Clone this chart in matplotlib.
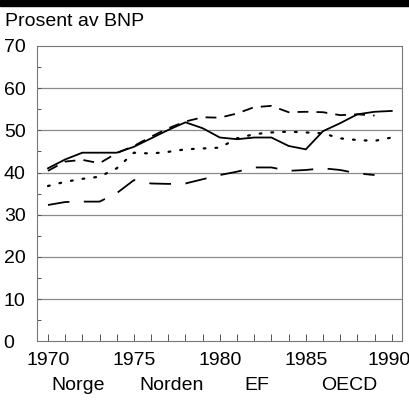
import matplotlib
matplotlib.use("Agg")
import matplotlib.pyplot as plt
from matplotlib.patches import Rectangle
import matplotlib.transforms as mtransforms

plt.rcParams['font.family'] = ['Liberation Sans Narrow', 'Liberation Sans', 'DejaVu Sans']

years = list(range(1970, 1991))
norge = [41.0, 43.1, 44.7, 44.7, 44.7, 46.1, 48.1, 50.1, 51.9, 50.5, 48.3,
         47.9, 48.3, 48.3, 46.3, 45.5, 49.8, 51.7, 53.8, 54.4, 54.6]
years_nd = list(range(1970, 1990))
norden = [40.4, 42.6, 43.0, 42.2, 44.6, 46.3, 48.5, 50.5, 52.1, 53.1, 53.0,
          54.0, 55.5, 55.8, 54.3, 54.4, 54.3, 53.6, 53.8, 53.5]
ef = [36.8, 37.8, 38.5, 39.0, 41.0, 44.7, 44.5, 44.9, 45.5, 45.7, 45.9,
      48.1, 49.1, 49.5, 49.7, 49.5, 49.3, 48.1, 47.7, 47.5, 48.3]
oecd = [32.3, 33.0, 33.1, 33.1, 35.1, 38.2, 37.4, 37.3, 37.4, 38.4, 39.4,
        40.2, 41.2, 41.2, 40.4, 40.6, 41.0, 40.6, 39.8, 39.4]

series_labels = ["Norge", "Norden", "EF", "OECD"]
yticks = [0, 10, 20, 30, 40, 50, 60, 70]
xticks = [1970, 1975, 1980, 1985, 1990]

fig = plt.figure(figsize=(4.09, 4.00), dpi=100)
ax = fig.add_axes([0.090, 0.147, 0.893, 0.738])

ax.plot(years, norge, color='black', lw=1.3, solid_joinstyle='miter')
ax.plot(years_nd, norden, color='black', lw=1.3, dashes=(6, 4.5))
ax.plot(years, ef, color='black', lw=1.6, dashes=(0.8, 4.5), dash_capstyle='round')
ax.plot(years_nd, oecd, color='black', lw=1.3, dashes=(12, 8))

ax.set_xlim(1969.35, 1990.6)
ax.set_ylim(0, 70)
for v in yticks[1:-1]:
    ax.axhline(v, color='#8a8a8a', lw=0.9, zorder=0)

ax.set_yticks(yticks)
ax.set_yticks(range(5, 70, 10), minor=True)
ax.set_xticks(years, minor=True)
ax.set_xticks(xticks)
ax.set_xticklabels([str(x) for x in xticks])
ax.set_yticklabels([str(v) for v in yticks])
ax.tick_params(axis='y', which='both', direction='in', length=3, width=0.7,
               labelsize=14, pad=8, colors='#555555', labelcolor='black')
ax.tick_params(axis='x', which='both', direction='in', length=5, width=0.7,
               labelsize=14, pad=8, colors='#555555', labelcolor='black')

# "0" label sits further left, as in the reference
lbl0 = ax.get_yticklabels()[0]
lbl0.set_transform(lbl0.get_transform() +
                   mtransforms.ScaledTranslation(-12 / 100, 0, fig.dpi_scale_trans))
# keep 1990 inside the figure
lblx = ax.get_xticklabels()[-1]
lblx.set_transform(lblx.get_transform() +
                   mtransforms.ScaledTranslation(-3 / 100, 0, fig.dpi_scale_trans))

for sp in ax.spines.values():
    sp.set_color('#777777')
    sp.set_linewidth(0.8)

fig.patches.append(Rectangle((0, 0.985), 1, 0.015, transform=fig.transFigure,
                             color='black', zorder=5))
fig.text(0.012, 0.946, "Prosent av BNP", fontsize=14, va='center', ha='left')

xs = [0.19, 0.42, 0.627, 0.855]
for x, lab in zip(xs, series_labels):
    fig.text(x, 0.037, lab, fontsize=14, ha='center', va='center')

fig.savefig("out.png", dpi=100)
